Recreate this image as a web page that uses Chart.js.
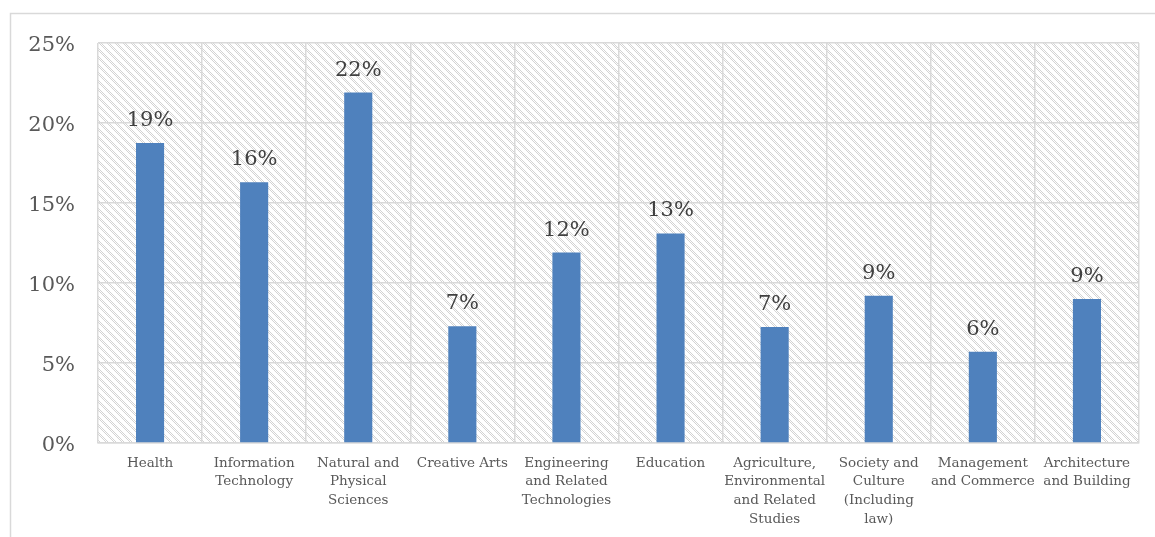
<!DOCTYPE html>
<html>
<head>
<meta charset="utf-8">
<script src="https://cdn.jsdelivr.net/npm/chart.js@4/dist/chart.umd.min.js"></script>
<style>
html,body{margin:0;padding:0;background:#fff;}
#wrap{position:relative;width:1155px;height:537px;}
</style>
</head>
<body>
<div id="wrap"><canvas id="c" width="1155" height="537"></canvas></div>
<script>
const categories = [
  ["Health"],
  ["Information", "Technology"],
  ["Natural and", "Physical", "Sciences"],
  ["Creative Arts"],
  ["Engineering", "and Related", "Technologies"],
  ["Education"],
  ["Agriculture,", "Environmental", "and Related", "Studies"],
  ["Society and", "Culture", "(Including", "law)"],
  ["Management", "and Commerce"],
  ["Architecture", "and Building"]
];
const shares = [18.75, 16.3, 21.9, 7.3, 11.9, 13.1, 7.25, 9.2, 5.7, 9.0];
const yTicks = [0, 5, 10, 15, 20, 25];

const FONT = "'DejaVu Serif', serif";

function makePattern(ctx) {
  const p = document.createElement('canvas');
  p.width = 8; p.height = 8;
  const g = p.getContext('2d');
  g.fillStyle = '#ffffff';
  g.fillRect(0, 0, 8, 8);
  g.fillStyle = '#d3d3d3';
  for (let i = 0; i < 8; i++) {
    g.fillRect(i, i, 1, 1);
    g.fillRect((i + 2) % 8, i, 1, 1);
  }
  return ctx.createPattern(p, 'repeat');
}

const bgPlugin = {
  id: 'bg',
  beforeDraw(chart) {
    const ctx = chart.ctx;
    const a = chart.chartArea;
    ctx.save();
    ctx.fillStyle = '#fff';
    ctx.fillRect(0, 0, chart.width, chart.height);
    ctx.strokeStyle = '#d9d9d9';
    ctx.lineWidth = 1.5;
    ctx.beginPath();
    ctx.moveTo(10.5, chart.height);
    ctx.lineTo(10.5, 13.5);
    ctx.lineTo(chart.width, 13.5);
    ctx.stroke();
    ctx.fillStyle = makePattern(ctx);
    ctx.fillRect(a.left, a.top, a.right - a.left, a.bottom - a.top);
    ctx.restore();
  }
};

const labelPlugin = {
  id: 'vals',
  afterDatasetsDraw(chart) {
    const ctx = chart.ctx;
    const meta = chart.getDatasetMeta(0);
    ctx.save();
    ctx.font = "21px " + FONT;
    ctx.fillStyle = '#404040';
    ctx.textAlign = 'center';
    ctx.textBaseline = 'bottom';
    meta.data.forEach((bar, i) => {
      ctx.fillText(Math.round(shares[i]) + '%', bar.x, bar.y - 12);
    });
    ctx.restore();
  }
};

new Chart(document.getElementById('c'), {
  type: 'bar',
  data: {
    labels: categories,
    datasets: [{
      data: shares,
      backgroundColor: '#4F81BD',
      borderWidth: 0,
      barPercentage: 0.27,
      categoryPercentage: 1.0
    }]
  },
  options: {
    responsive: false,
    animation: false,
    devicePixelRatio: 1,
    layout: { padding: { left: 10, top: 43, right: 16, bottom: 0 } },
    plugins: { legend: { display: false }, tooltip: { enabled: false } },
    scales: {
      y: {
        min: 0, max: 25,
        afterFit(s) { s.width = 88; },
        afterBuildTicks(s) { s.ticks = yTicks.map(v => ({ value: v })); },
        ticks: {
          padding: 23,
          labelOffset: 3,
          color: '#595959',
          font: { family: FONT, size: 21 },
          callback: v => v + '%'
        },
        grid: { color: '#d9d9d9', lineWidth: 1.5, drawTicks: false },
        border: { display: false }
      },
      x: {
        afterFit(s) { s.height = 94; },
        ticks: {
          padding: 11,
          color: '#595959',
          maxRotation: 0,
          autoSkip: false,
          font: { family: FONT, size: 13.5, lineHeight: 1.38 }
        },
        grid: { color: '#d9d9d9', lineWidth: 1.5, drawTicks: false, offset: true },
        border: { color: '#d9d9d9', width: 1.5 }
      }
    }
  },
  plugins: [bgPlugin, labelPlugin]
});
</script>
</body>
</html>
